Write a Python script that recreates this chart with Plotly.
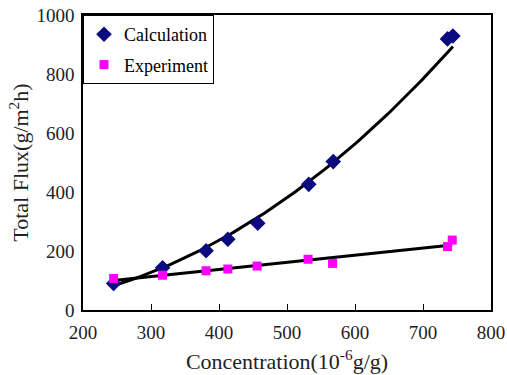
import numpy as np
import plotly.graph_objects as go

# Measured points: concentration (10^-6 g/g) vs total flux (g/m^2 h)
calc_conc = [245, 317, 381, 413, 457, 532, 568, 736, 744]
calc_flux = [90, 143, 201, 240, 294, 426, 503, 919, 929]

exp_conc = [245, 317, 381, 413, 456, 531, 567, 736, 743]
exp_flux = [107, 118, 133, 139, 149, 172, 158, 215, 237]

x_ticks = [200, 300, 400, 500, 600, 700, 800]
y_ticks = [0, 200, 400, 600, 800, 1000]

FONT = "Times New Roman, Liberation Serif, DejaVu Serif, serif"

# Trend lines: power law through calculation, linear through experiment
b_pow, ln_a = np.polyfit(np.log(calc_conc), np.log(calc_flux), 1)
exp_fit = np.polyfit(exp_conc, exp_flux, 1)
xs_c = np.linspace(min(calc_conc), max(calc_conc), 120)
xs_e = np.linspace(min(exp_conc), max(exp_conc), 2)

fig = go.Figure()
fig.add_trace(go.Scatter(x=xs_c, y=np.exp(ln_a) * xs_c ** b_pow, mode="lines",
                         line=dict(color="black", width=3), showlegend=False,
                         hoverinfo="skip"))
fig.add_trace(go.Scatter(x=xs_e, y=np.polyval(exp_fit, xs_e), mode="lines",
                         line=dict(color="black", width=3), showlegend=False,
                         hoverinfo="skip"))
fig.add_trace(go.Scatter(x=calc_conc, y=calc_flux, mode="markers", name="Calculation",
                         legendgroup="calc",
                         marker=dict(symbol="diamond", size=12, color="#0b0b80")))
fig.add_trace(go.Scatter(x=exp_conc, y=exp_flux, mode="markers", name="Experiment",
                         legendgroup="exp",
                         marker=dict(symbol="square", size=9, color="#ff00ff")))

fig.update_layout(
    width=507, height=375,
    margin=dict(l=83, r=16, t=15, b=65),
    paper_bgcolor="white", plot_bgcolor="white",
    font=dict(family=FONT, size=19, color="#222222"),
    legend=dict(x=0, y=1, xanchor="left", yanchor="top",
                bordercolor="black", borderwidth=1, bgcolor="white",
                font=dict(size=18, color="black"), tracegroupgap=4,
                traceorder="grouped", itemwidth=30),
    xaxis=dict(range=[200, 800], tickvals=x_ticks, ticks="inside", ticklen=6,
               tickcolor="black", showline=True, linecolor="black", linewidth=1.5,
               mirror=True, showgrid=False, zeroline=False, ticklabelstandoff=4,
               automargin=False,
               title=dict(text="Concentration(10<sup>-6</sup>g/g)",
                          font=dict(size=22), standoff=12)),
    yaxis=dict(range=[0, 1000], tickvals=y_ticks, ticks="", showline=True,
               linecolor="black", linewidth=1.5, mirror=True, showgrid=False,
               zeroline=False, ticklabelstandoff=3, automargin=False,
               title=dict(text="Total Flux(g/m<sup>2</sup>h)",
                          font=dict(size=22), standoff=2)),
)

fig.write_html("out.html")
